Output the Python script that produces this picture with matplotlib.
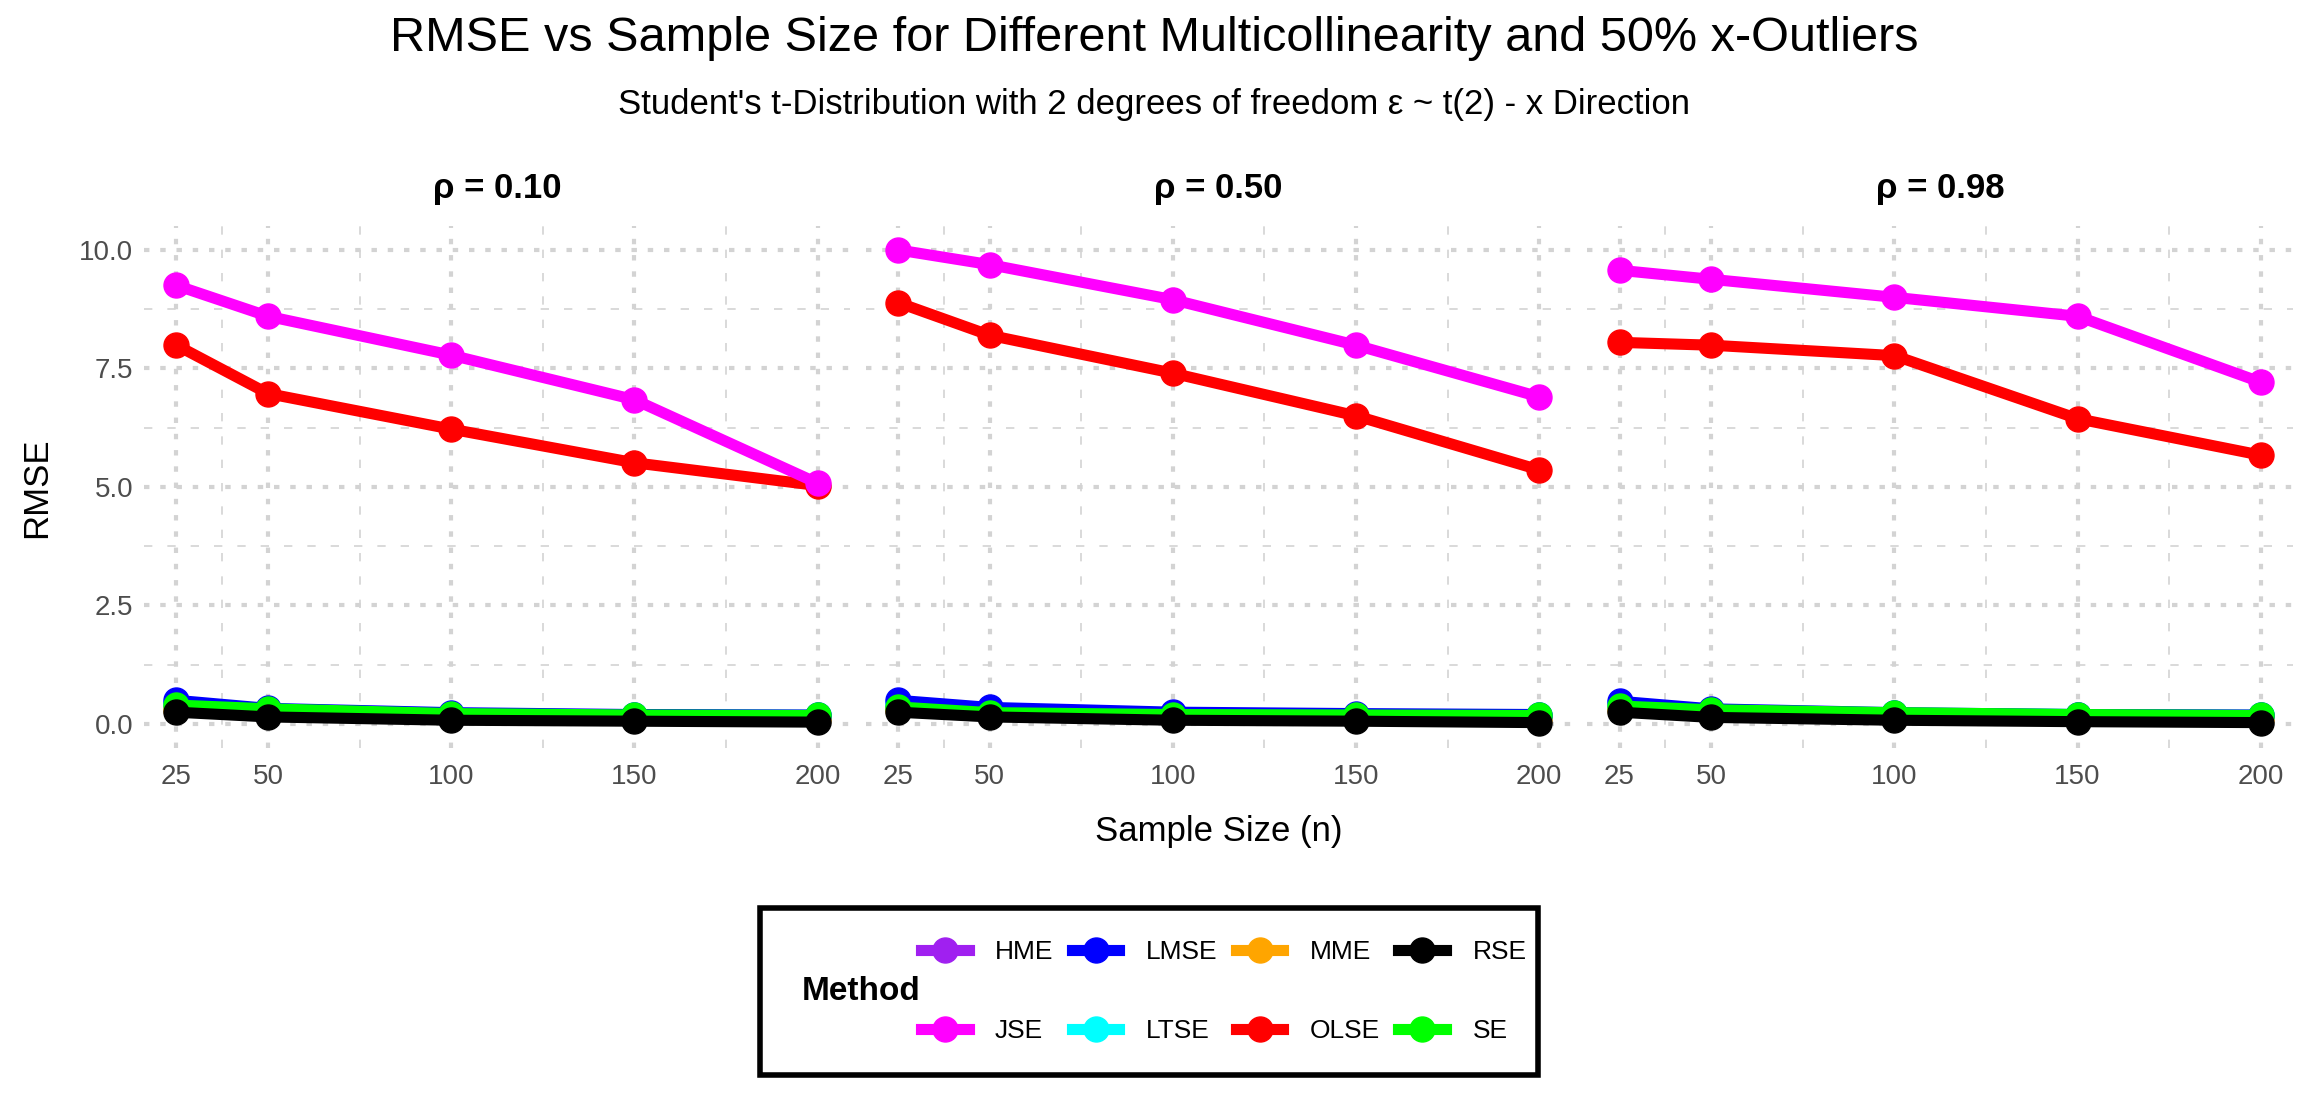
import numpy as np
import matplotlib.pyplot as plt
from matplotlib.lines import Line2D
from matplotlib.patches import Rectangle
from matplotlib.ticker import FixedLocator

plt.rcParams['font.family'] = ['Liberation Sans', 'DejaVu Sans']

# daten, je Liste: rho = 0.10, 0.50, 0.98
sample_sizes = [25, 50, 100, 150, 200]
rho_labels = ["ρ = 0.10", "ρ = 0.50", "ρ = 0.98"]
methods = ["HME", "JSE", "LMSE", "LTSE", "MME", "OLSE", "RSE", "SE"]

hme = [[0.40, 0.30, 0.20, 0.17, 0.16],
       [0.38, 0.25, 0.19, 0.17, 0.16],
       [0.40, 0.29, 0.22, 0.19, 0.17]]
jse = [[9.25, 8.60, 7.78, 6.84, 5.08],
       [10.00, 9.69, 8.95, 7.99, 6.90],
       [9.57, 9.38, 9.00, 8.60, 7.21]]
lmse = [[0.50, 0.33, 0.24, 0.20, 0.19],
        [0.50, 0.35, 0.25, 0.22, 0.20],
        [0.48, 0.32, 0.24, 0.20, 0.19]]
ltse = [[0.45, 0.32, 0.22, 0.19, 0.18],
        [0.44, 0.31, 0.21, 0.19, 0.18],
        [0.44, 0.30, 0.23, 0.20, 0.18]]
mme = [[0.30, 0.20, 0.14, 0.12, 0.10],
       [0.30, 0.19, 0.13, 0.11, 0.10],
       [0.30, 0.20, 0.14, 0.12, 0.10]]
olse = [[7.99, 6.97, 6.22, 5.51, 5.03],
        [8.89, 8.20, 7.40, 6.50, 5.36],
        [8.05, 7.99, 7.77, 6.44, 5.67]]
rse = [[0.25, 0.15, 0.08, 0.06, 0.04],
       [0.25, 0.15, 0.08, 0.06, 0.03],
       [0.25, 0.14, 0.08, 0.05, 0.03]]
se = [[0.40, 0.32, 0.22, 0.19, 0.18],
      [0.36, 0.24, 0.20, 0.19, 0.18],
      [0.38, 0.30, 0.24, 0.20, 0.18]]

series = {"HME": hme, "JSE": jse, "LMSE": lmse, "LTSE": ltse,
          "MME": mme, "OLSE": olse, "RSE": rse, "SE": se}
colors = {"HME": "#A020F0", "JSE": "#FF00FF", "LMSE": "#0000FF", "LTSE": "#00FFFF",
          "MME": "#FFA500", "OLSE": "#FF0000", "RSE": "#000000", "SE": "#00FF00"}
# reihenfolge beim zeichnen (magenta über rot, schwarz ganz oben)
draw_order = ["HME", "MME", "LTSE", "LMSE", "OLSE", "JSE", "SE", "RSE"]

LW = 8
MS = 18
GRID = "#D3D3D3"

fig = plt.figure(figsize=(23.09, 10.98), dpi=100)

panel_left = [0.0625, 0.375, 0.6875]
panel_w = 0.3055
panel_b = 0.319
panel_h = 0.475

for i, rho in enumerate(rho_labels):
    ax = fig.add_axes([panel_left[i], panel_b, panel_w, panel_h])
    for k, m in enumerate(draw_order):
        ax.plot(sample_sizes, series[m][i], color=colors[m], lw=LW,
                marker="o", ms=MS, zorder=3 + k, solid_capstyle="butt")
    ax.set_xlim(16.25, 208.75)
    ax.set_ylim(-0.5, 10.5)
    ax.xaxis.set_major_locator(FixedLocator(sample_sizes))
    ax.xaxis.set_minor_locator(FixedLocator([37.5, 75, 125, 175]))
    ax.yaxis.set_major_locator(FixedLocator([0, 2.5, 5, 7.5, 10]))
    ax.yaxis.set_minor_locator(FixedLocator([1.25, 3.75, 6.25, 8.75]))
    ax.grid(True, which="major", color=GRID, lw=3, linestyle=(0, (1.3, 2.6)), zorder=0)
    ax.grid(True, which="minor", color=GRID, lw=1.2, linestyle=(0, (5, 9)), zorder=0)
    ax.tick_params(which="both", length=0, labelsize=20, labelcolor="#4D4D4D", pad=8)
    ax.tick_params(axis="x", pad=12)
    ax.set_xticklabels([str(s) for s in sample_sizes])
    if i == 0:
        ax.set_yticklabels(["0.0", "2.5", "5.0", "7.5", "10.0"])
    else:
        ax.set_yticklabels([])
    for sp in ax.spines.values():
        sp.set_visible(False)
    ax.set_title(rho, fontsize=25, fontweight="bold", pad=20)

fig.text(0.5, 0.965, "RMSE vs Sample Size for Different Multicollinearity and 50% x-Outliers",
         ha="center", va="center", fontsize=35)
fig.text(0.5, 0.905, "Student's t-Distribution with 2 degrees of freedom ε ~ t(2) - x Direction",
         ha="center", va="center", fontsize=25)
fig.text(0.016, 0.556, "RMSE", rotation=90, ha="center", va="center", fontsize=25)
fig.text(0.528, 0.243, "Sample Size (n)", ha="center", va="center", fontsize=25)

# legende mit rahmen
box = Rectangle((0.329, 0.021), 0.337, 0.152, transform=fig.transFigure,
                fill=False, edgecolor="black", lw=4)
fig.add_artist(box)
fig.text(0.373, 0.097, "Method", ha="center", va="center", fontsize=24, fontweight="bold")
handles = [Line2D([], [], color=colors[m], lw=LW, marker="o", ms=MS) for m in methods]
fig.legend(handles, methods, ncol=4, loc="center", bbox_to_anchor=(0.53, 0.097),
           frameon=False, fontsize=19, handlelength=1.8, columnspacing=0.7,
           labelspacing=2.1, handletextpad=1.0)

fig.savefig("out.png", dpi=100, facecolor="white")
